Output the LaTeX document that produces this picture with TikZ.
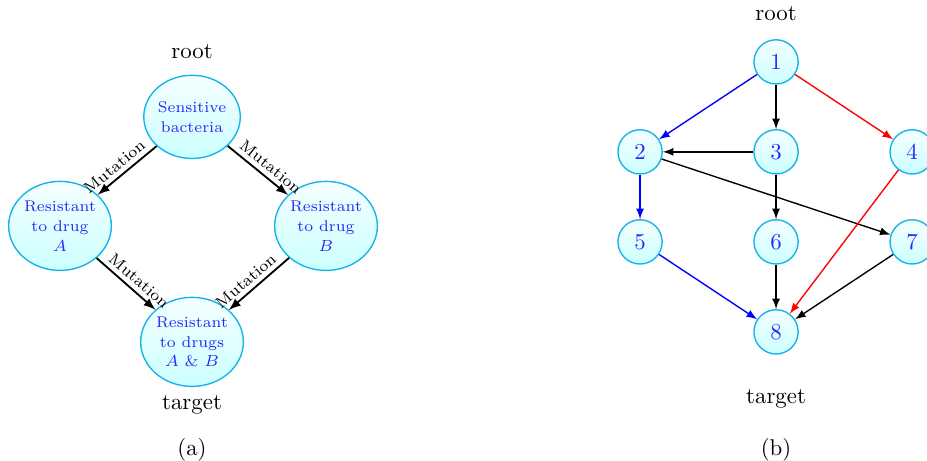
\documentclass[tikz,border=0pt]{standalone}
\usepackage{amsmath}
\usepackage{tikz}
\usetikzlibrary{shapes.geometric,arrows}

\definecolor{rimcyan}{RGB}{20,180,235}
\definecolor{txtblue}{RGB}{40,40,250}

\begin{document}
\begin{tikzpicture}[
  cell/.style={
    ellipse,
    draw=rimcyan,
    semithick,
    top color=cyan!4,
    bottom color=cyan!20,
    text=txtblue,
    align=center,
    font=\fontsize{6.8}{8.7}\selectfont,
    inner sep=0pt
  },
  vert/.style={
    circle,
    draw=rimcyan,
    semithick,
    top color=cyan!4,
    bottom color=cyan!20,
    text=txtblue,
    minimum size=0.68cm,
    inner sep=0pt
  },
  mut/.style={thick,-latex},
  arc/.style={semithick,-latex},
  mutlabel/.style={above,sloped,pos=0.6,font=\scriptsize,inner sep=2pt}
]
\useasboundingbox (0,0) rectangle (14.26,7.09);

% (a) bacteria
\node[cell,minimum width=1.48cm,minimum height=1.28cm] (sens) at (2.954,5.292) {Sensitive\\bacteria};
\node[cell,minimum width=1.58cm,minimum height=1.37cm] (resA) at (0.923,3.615) {Resistant\\to drug\\$A$};
\node[cell,minimum width=1.58cm,minimum height=1.37cm] (resB) at (5.015,3.615) {Resistant\\to drug\\$B$};
\node[cell,minimum width=1.58cm,minimum height=1.37cm] (resAB) at (2.954,1.831) {Resistant\\to drugs\\$A$ \& $B$};
\node (roota) at (2.954,6.292) {root};
\node (targeta) at (2.954,0.862) {target};
\node (capa) at (2.954,0.169) {(a)};

\draw[mut] (sens) -- node[mutlabel] {Mutation} (resA);
\draw[mut] (sens) -- node[mutlabel] {Mutation} (resB);
\draw[mut] (resA) -- node[mutlabel] {Mutation} (resAB);
\draw[mut] (resB) -- node[mutlabel] {Mutation} (resAB);

% (b) graph
\node[vert] (n1) at (11.938,6.138) {1};
\node[vert] (n2) at (9.846,4.754) {2};
\node[vert] (n3) at (11.938,4.754) {3};
\node[vert] (n4) at (14.031,4.754) {4};
\node[vert] (n5) at (9.846,3.369) {5};
\node[vert] (n6) at (11.938,3.369) {6};
\node[vert] (n7) at (14.031,3.369) {7};
\node[vert] (n8) at (11.938,1.985) {8};
\node (rootb) at (11.938,6.877) {root};
\node (targetb) at (11.938,0.954) {target};
\node (capb) at (11.938,0.169) {(b)};

\draw[arc,blue] (n1) -- (n2);
\draw[arc] (n1) -- (n3);
\draw[arc,red] (n1) -- (n4);
\draw[arc] (n3) -- (n2);
\draw[arc,blue] (n2) -- (n5);
\draw[arc] (n2) -- (n7);
\draw[arc] (n3) -- (n6);
\draw[arc,red] (n4) -- (n8);
\draw[arc,blue] (n5) -- (n8);
\draw[arc] (n6) -- (n8);
\draw[arc] (n7) -- (n8);
\end{tikzpicture}
\end{document}
